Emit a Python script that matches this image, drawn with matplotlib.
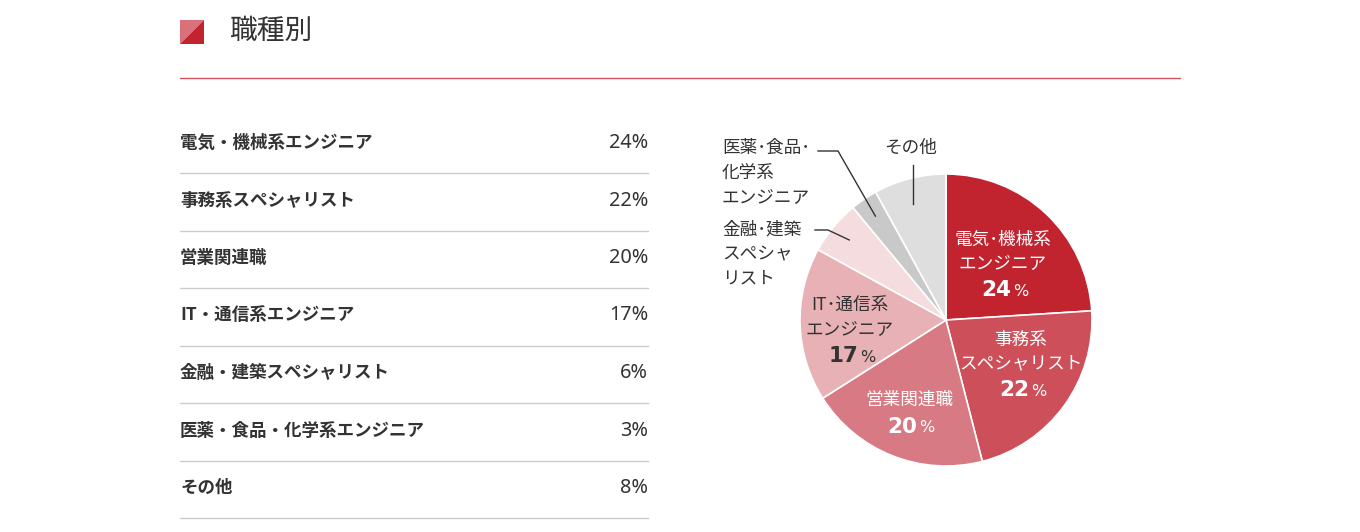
import numpy as np
import matplotlib.pyplot as plt
from matplotlib.patches import Polygon

plt.rcParams['font.family'] = ['Noto Sans CJK JP', 'DejaVu Sans']

title = "職種別"
categories = ["電気・機械系エンジニア", "事務系スペシャリスト", "営業関連職",
              "IT・通信系エンジニア", "金融・建築スペシャリスト",
              "医薬・食品・化学系エンジニア", "その他"]
shares = [24, 22, 20, 17, 6, 3, 8]
pie_labels = [["電気･機械系", "エンジニア"], ["事務系", "スペシャリスト"], ["営業関連職"],
              ["IT･通信系", "エンジニア"], ["金融･建築", "スペシャ", "リスト"],
              ["医薬･食品･", "化学系", "エンジニア"], ["その他"]]
colors = ["#c1232f", "#cc4f5a", "#d87a83", "#e8b1b5", "#f4dcdf", "#c9c9c9", "#dedede"]

W, H = 1360, 532
fig = plt.figure(figsize=(W / 100, H / 100), dpi=100)

# background axes in pixel coordinates (header + table)
bg = fig.add_axes([0, 0, 1, 1])
bg.set_xlim(0, W)
bg.set_ylim(H, 0)
bg.axis('off')

# header
bg.add_patch(Polygon([(180, 20), (204, 20), (180, 44)], closed=True, color="#d9707a", lw=0))
bg.add_patch(Polygon([(204, 20), (204, 44), (180, 44)], closed=True, color="#c1232f", lw=0))
bg.text(229, 31, title, fontsize=20, color="#333333", va='center', ha='left')
bg.plot([180, 1180], [78, 78], color="#d1545e", lw=1)

# table
row_y0, row_h = 143, 57.5
for i, (cat, val) in enumerate(zip(categories, shares)):
    y = row_y0 + i * row_h
    bg.text(180, y, cat, fontsize=12.6, fontweight='bold', color="#333333", va='center', ha='left')
    bg.text(648, y, f"{val}%", fontsize=14.3, color="#333333", va='center', ha='right',
            family=['Noto Sans', 'DejaVu Sans'])
    bg.plot([180, 648], [y + 30, y + 30], color="#cccccc", lw=1)

# pie
cx, cy, R = 946, 320, 146
ax = fig.add_axes([(cx - R) / W, (H - cy - R) / H, 2 * R / W, 2 * R / H])
wedges, _ = ax.pie(shares, colors=colors, startangle=90, counterclock=False, radius=1,
                   wedgeprops=dict(edgecolor='white', linewidth=1.2))
ax.set_xlim(-1, 1)
ax.set_ylim(-1, 1)
ax.set_aspect('equal')


def d(px, py):
    return (px - cx) / R, (cy - py) / R


# inside labels: (center x, first line y) in px, text colour
inside = {0: (1003, 240, 'white'), 1: (1021, 340, 'white'), 2: (909, 400, 'white'),
          3: (850, 306, '#333333')}
for i, (px, py, c) in inside.items():
    lines = pie_labels[i]
    for k, line in enumerate(lines):
        ax.text(*d(px, py + k * 23), line, fontsize=12.7, color=c, ha='center', va='center')
    ny = py + len(lines) * 23 + 4
    ax.text(*d(px + 8, ny), f"{shares[i]}", fontsize=15.5, fontweight='bold', color=c,
            ha='right', va='center', family=['DejaVu Sans'])
    ax.text(*d(px + 10, ny + 1), "%", fontsize=11.5, color=c,
            ha='left', va='center', family=['DejaVu Sans'])

# outside labels with leader lines
cum = np.cumsum([0] + shares) / sum(shares)


def mid_point(i, r=0.85):
    a = np.deg2rad(90 - 360 * (cum[i] + cum[i + 1]) / 2)
    return r * np.cos(a), r * np.sin(a)


outside = {4: (722, 230, 'left', [(815, 230), (828, 230)]),
           5: (722, 148, 'left', [(818, 151), (838, 151)]),
           6: (911, 148, 'center', [(913, 165)])}
for i, (px, py, ha, pts) in outside.items():
    for k, line in enumerate(pie_labels[i]):
        ax.text(*d(px, py + k * 24.5), line, fontsize=12.7, color="#333333", ha=ha, va='center')
    xs = [d(*p)[0] for p in pts]
    ys = [d(*p)[1] for p in pts]
    ex, ey = mid_point(i, 0.86 if i != 6 else 0.82)
    if i == 6:
        ex = xs[0]
    ax.plot(xs + [ex], ys + [ey], color="#333333", lw=1, clip_on=False)

fig.savefig("out.png", dpi=100, facecolor='white')
